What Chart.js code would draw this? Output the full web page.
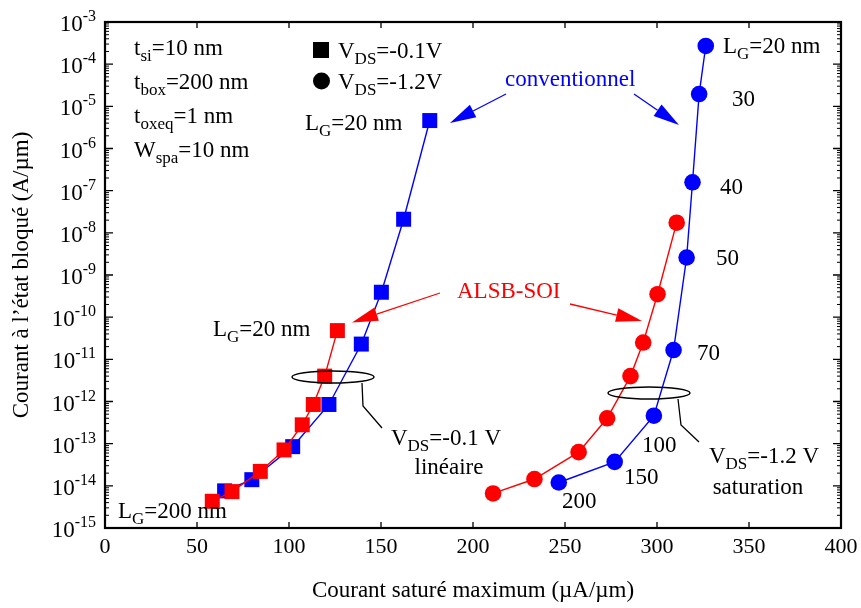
<!DOCTYPE html>
<html lang="fr">
<head>
    <meta charset="UTF-8">
    <title>Courant bloqué vs courant saturé</title>
    <script src="https://cdn.jsdelivr.net/npm/chart.js"></script>
    <style>
        body { margin: 0; padding: 0; background: #fff; }
        canvas { display: block; }
    </style>
</head>
<body>
    <canvas id="chart" width="861" height="608"></canvas>

    <script>
        // gate lengths (nm), same order for every series
        const gateLengths = [20, 30, 40, 50, 70, 100, 150, 200];

        // VDS = -0.1 V (squares)
        const convLinX = [176.5, 162.3, 150.2, 139.3, 121.7, 102.0, 79.8, 65.0];
        const convLinY = [4.6e-6, 2.1e-8, 3.9e-10, 2.3e-11, 8.5e-13, 8.5e-14, 1.4e-14, 7.6e-15];
        const alsbLinX = [126.3, 119.4, 113.2, 107.2, 97.3, 84.4, 69.0, 58.3];
        const alsbLinY = [4.8e-11, 4.0e-12, 8.5e-13, 2.8e-13, 7.1e-14, 2.2e-14, 7.3e-15, 4.3e-15];

        // VDS = -1.2 V (circles)
        const convSatX = [326.5, 322.9, 319.3, 316.1, 309.0, 298.3, 277.0, 246.6];
        const convSatY = [2.7e-4, 1.96e-5, 1.58e-7, 2.6e-9, 1.66e-11, 4.6e-13, 3.7e-14, 1.2e-14];
        const alsbSatX = [310.7, 300.3, 292.5, 285.6, 272.9, 257.4, 233.4, 210.9];
        const alsbSatY = [1.74e-8, 3.5e-10, 2.5e-11, 4.0e-12, 4.0e-13, 6.3e-14, 1.45e-14, 6.6e-15];

        const xTicks = [0, 50, 100, 150, 200, 250, 300, 350, 400];
        const yExponents = [-15, -14, -13, -12, -11, -10, -9, -8, -7, -6, -5, -4, -3];

        const BLUE = '#0000ff';
        const RED = '#ff0000';
        const FONT = "'Liberation Serif', 'DejaVu Serif', serif";

        function toPoints(xs, ys) {
            return xs.map((x, i) => ({ x: x, y: ys[i] }));
        }

        function series(label, xs, ys, color, style, radius) {
            return {
                label: label,
                data: toPoints(xs, ys),
                showLine: true,
                borderColor: color,
                borderWidth: 1.4,
                backgroundColor: color,
                pointBackgroundColor: color,
                pointBorderWidth: 0,
                pointStyle: style,
                pointRadius: radius,
                pointHoverRadius: radius,
                tension: 0,
                clip: false
            };
        }

        // rich text: parts = [[text, ''|'sub'|'sup'], ...]
        function richText(ctx, parts, x, y, size, color, align) {
            const small = Math.round(size * 0.72);
            let total = 0;
            parts.forEach(p => {
                ctx.font = (p[1] ? small : size) + 'px ' + FONT;
                total += ctx.measureText(p[0]).width;
            });
            let cx = x;
            if (align === 'center') cx = x - total / 2;
            if (align === 'right') cx = x - total;
            ctx.fillStyle = color;
            ctx.textAlign = 'left';
            ctx.textBaseline = 'alphabetic';
            parts.forEach(p => {
                let dy = 0;
                if (p[1] === 'sub') dy = size * 0.26;
                if (p[1] === 'sup') dy = -size * 0.42;
                ctx.font = (p[1] ? small : size) + 'px ' + FONT;
                ctx.fillText(p[0], cx, y + dy);
                cx += ctx.measureText(p[0]).width;
            });
        }

        function arrow(ctx, x1, y1, x2, y2, color) {
            const ang = Math.atan2(y2 - y1, x2 - x1);
            const len = 26, half = 7;
            const bx = x2 - len * Math.cos(ang);
            const by = y2 - len * Math.sin(ang);
            ctx.strokeStyle = color;
            ctx.lineWidth = 1.3;
            ctx.beginPath();
            ctx.moveTo(x1, y1);
            ctx.lineTo(bx, by);
            ctx.stroke();
            ctx.fillStyle = color;
            ctx.beginPath();
            ctx.moveTo(x2, y2);
            ctx.lineTo(bx + half * Math.sin(ang), by - half * Math.cos(ang));
            ctx.lineTo(bx - half * Math.sin(ang), by + half * Math.cos(ang));
            ctx.closePath();
            ctx.fill();
        }

        function polyline(ctx, pts) {
            ctx.strokeStyle = '#000';
            ctx.lineWidth = 1.3;
            ctx.beginPath();
            pts.forEach((p, i) => i ? ctx.lineTo(p[0], p[1]) : ctx.moveTo(p[0], p[1]));
            ctx.stroke();
        }

        function ellipse(ctx, cx, cy, rx, ry) {
            ctx.strokeStyle = '#000';
            ctx.lineWidth = 1.5;
            ctx.beginPath();
            ctx.ellipse(cx, cy, rx, ry, 0, 0, Math.PI * 2);
            ctx.stroke();
        }

        const L_G = (v) => [['L', ''], ['G', 'sub'], ['=' + v, '']];
        const VDS = (v) => [['V', ''], ['DS', 'sub'], ['=' + v, '']];

        const framePlugin = {
            id: 'frame',
            afterDraw(chart) {
                const ctx = chart.ctx;
                const a = chart.chartArea;
                const xs = chart.scales.x;
                const ys = chart.scales.y;
                ctx.save();

                // frame
                ctx.strokeStyle = '#000';
                ctx.lineWidth = 2.2;
                ctx.strokeRect(a.left, a.top, a.right - a.left, a.bottom - a.top);

                // x ticks (inside, top & bottom) + labels
                ctx.lineWidth = 1.3;
                xTicks.forEach(v => {
                    const px = xs.getPixelForValue(v);
                    ctx.beginPath();
                    ctx.moveTo(px, a.bottom); ctx.lineTo(px, a.bottom - 6);
                    ctx.moveTo(px, a.top); ctx.lineTo(px, a.top + 6);
                    ctx.stroke();
                    ctx.font = '22px ' + FONT;
                    ctx.fillStyle = '#000';
                    ctx.textAlign = 'center';
                    ctx.textBaseline = 'alphabetic';
                    ctx.fillText(String(v), px, a.bottom + 25);
                });

                // y ticks: decades + minor 2..9, both sides
                yExponents.forEach((e, i) => {
                    const py = ys.getPixelForValue(Math.pow(10, e));
                    ctx.lineWidth = 1.4;
                    ctx.beginPath();
                    ctx.moveTo(a.left, py); ctx.lineTo(a.left + 8, py);
                    ctx.moveTo(a.right, py); ctx.lineTo(a.right - 8, py);
                    ctx.stroke();
                    if (i < yExponents.length - 1) {
                        ctx.lineWidth = 1;
                        for (let m = 2; m <= 9; m++) {
                            const my = ys.getPixelForValue(m * Math.pow(10, e));
                            ctx.beginPath();
                            ctx.moveTo(a.left, my); ctx.lineTo(a.left + 4, my);
                            ctx.moveTo(a.right, my); ctx.lineTo(a.right - 4, my);
                            ctx.stroke();
                        }
                    }
                    // label 10^e
                    ctx.fillStyle = '#000';
                    ctx.textBaseline = 'alphabetic';
                    ctx.font = '16px ' + FONT;
                    const expW = ctx.measureText(String(e)).width;
                    ctx.textAlign = 'right';
                    ctx.fillText(String(e), a.left - 9, py - 1);
                    ctx.font = '23px ' + FONT;
                    ctx.fillText('10', a.left - 9 - expW, py + 9);
                });

                // axis titles
                ctx.fillStyle = '#000';
                ctx.font = '23px ' + FONT;
                ctx.textAlign = 'center';
                ctx.textBaseline = 'alphabetic';
                ctx.fillText('Courant saturé maximum (µA/µm)', (a.left + a.right) / 2, 597);
                ctx.save();
                ctx.translate(28, (a.top + a.bottom) / 2);
                ctx.rotate(-Math.PI / 2);
                ctx.fillText('Courant à l\u2019état bloqué (A/µm)', 0, 0);
                ctx.restore();

                // device parameters
                richText(ctx, [['t', ''], ['si', 'sub'], ['=10 nm', '']], 134, 55, 23, '#000');
                richText(ctx, [['t', ''], ['box', 'sub'], ['=200 nm', '']], 134, 89, 23, '#000');
                richText(ctx, [['t', ''], ['oxeq', 'sub'], ['=1 nm', '']], 134, 123, 23, '#000');
                richText(ctx, [['W', ''], ['spa', 'sub'], ['=10 nm', '']], 134, 157, 23, '#000');

                // legend symbols
                ctx.fillStyle = '#000';
                ctx.fillRect(313, 42, 16, 16);
                ctx.beginPath();
                ctx.arc(321.5, 81, 8.5, 0, Math.PI * 2);
                ctx.fill();
                richText(ctx, VDS('-0.1V'), 338, 58, 23, '#000');
                richText(ctx, VDS('-1.2V'), 338, 89, 23, '#000');

                // conventionnel
                richText(ctx, [['conventionnel', '']], 505, 86, 23, BLUE);
                arrow(ctx, 506, 94, 450, 123, BLUE);
                arrow(ctx, 634, 94, 679, 125, BLUE);

                // ALSB-SOI
                richText(ctx, [['ALSB-SOI', '']], 457, 298, 23, RED);
                arrow(ctx, 440, 293, 352, 322.5, RED);
                arrow(ctx, 570, 304, 642, 321, RED);

                // gate length labels
                richText(ctx, L_G('20 nm'), 305, 130, 23, '#000');
                richText(ctx, L_G('20 nm'), 213, 336, 23, '#000');
                richText(ctx, L_G('200 nm'), 118, 518, 23, '#000');
                richText(ctx, L_G('20 nm'), 723, 53, 23, '#000');
                const satLabels = [[732, 106], [720, 194], [716, 265], [697, 360], [642, 452], [624, 484], [562, 508]];
                satLabels.forEach((p, i) => {
                    richText(ctx, [[String(gateLengths[i + 1]), '']], p[0], p[1], 23, '#000');
                });

                // VDS = -0.1 V group
                ellipse(ctx, 333, 377, 41, 6);
                polyline(ctx, [[362, 383], [363, 406], [382, 428]]);
                richText(ctx, VDS('-0.1 V'), 446, 445, 23, '#000', 'center');
                richText(ctx, [['linéaire', '']], 449, 474, 23, '#000', 'center');

                // VDS = -1.2 V group
                ellipse(ctx, 649, 393, 41, 6);
                polyline(ctx, [[678, 399], [681, 425], [699, 442]]);
                richText(ctx, VDS('-1.2 V'), 764, 463, 23, '#000', 'center');
                richText(ctx, [['saturation', '']], 758, 494, 23, '#000', 'center');

                ctx.restore();
            }
        };

        new Chart(document.getElementById('chart'), {
            type: 'scatter',
            data: {
                datasets: [
                    series('ALSB-SOI, VDS=-0.1V', alsbLinX, alsbLinY, RED, 'rect', 10.6),
                    series('conventionnel, VDS=-0.1V', convLinX, convLinY, BLUE, 'rect', 10.6),
                    series('ALSB-SOI, VDS=-1.2V', alsbSatX, alsbSatY, RED, 'circle', 8.3),
                    series('conventionnel, VDS=-1.2V', convSatX, convSatY, BLUE, 'circle', 8.3)
                ]
            },
            options: {
                responsive: false,
                animation: false,
                layout: { padding: { left: 105, right: 20, top: 22, bottom: 80 } },
                plugins: {
                    legend: { display: false },
                    tooltip: { enabled: false }
                },
                scales: {
                    x: { type: 'linear', min: 0, max: 400, display: false },
                    y: { type: 'logarithmic', min: 1e-15, max: 1e-3, display: false }
                }
            },
            plugins: [framePlugin]
        });
    </script>
</body>
</html>
